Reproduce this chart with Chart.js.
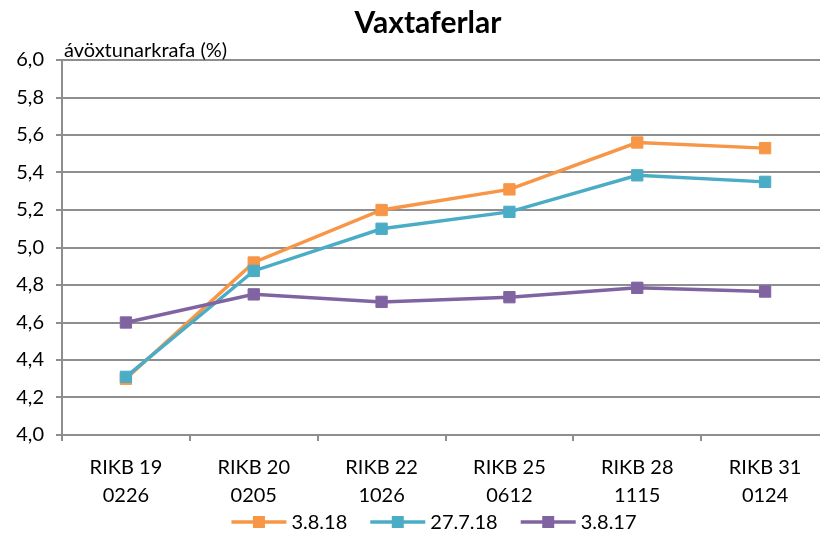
<!DOCTYPE html>
<html>
<head>
<meta charset="utf-8">
<script src="https://cdn.jsdelivr.net/npm/chart.js@4.4.1/dist/chart.umd.min.js"></script>
<style>
  html, body { margin: 0; padding: 0; background: #fff; overflow: hidden; }
</style>
</head>
<body>
<canvas id="chart" width="838" height="535"></canvas>
<script>
// Data
const categories = [
    ['RIKB 19', '0226'],
    ['RIKB 20', '0205'],
    ['RIKB 22', '1026'],
    ['RIKB 25', '0612'],
    ['RIKB 28', '1115'],
    ['RIKB 31', '0124']
];
const labels3818 = '3.8.18';
const labels27718 = '27.7.18';
const labels3817 = '3.8.17';
const values3818 = [4.30, 4.92, 5.20, 5.31, 5.56, 5.53];
const values27718 = [4.31, 4.875, 5.10, 5.19, 5.385, 5.35];
const values3817 = [4.60, 4.75, 4.71, 4.735, 4.785, 4.765];
const yMin = 4.0;
const yMax = 6.0;
const yStep = 0.2;

const chartTitle = 'Vaxtaferlar';
const yTitle = 'ávöxtunarkrafa (%)';

const FONT = 'Lato, "Open Sans", sans-serif';
const GRID = '#8e8e8e';

function makeSeries(label, data, color, order) {
    return {
        label,
        data,
        borderColor: color,
        backgroundColor: color,
        borderWidth: 3.5,
        pointStyle: 'rect',
        pointRadius: 8,
        pointBorderWidth: 1,
        pointBackgroundColor: color,
        pointBorderColor: color,
        tension: 0,
        order
    };
}

// Title, axis title and legend drawn by hand
const decorPlugin = {
    id: 'decor',
    afterDraw(chart) {
        const ctx = chart.ctx;
        const area = chart.chartArea;
        ctx.save();
        ctx.fillStyle = '#000';
        ctx.font = `bold 30px ${FONT}`;
        ctx.textAlign = 'center';
        ctx.textBaseline = 'middle';
        ctx.fillText(chartTitle, 428, 23);

        ctx.font = `20px ${FONT}`;
        ctx.textAlign = 'left';
        ctx.textBaseline = 'alphabetic';
        ctx.fillText(yTitle, area.left + 2, area.top - 3);

        // legend
        const lineLen = 55, gap = 23, textGap = 5;
        const sets = chart.data.datasets;
        const widths = sets.map(d => lineLen + textGap + ctx.measureText(d.label).width);
        const total = widths.reduce((a, b) => a + b, 0) + gap * (sets.length - 1);
        let x = 434 - total / 2;
        const y = 522;
        ctx.textBaseline = 'middle';
        sets.forEach((d, i) => {
            ctx.strokeStyle = d.borderColor;
            ctx.lineWidth = 3.5;
            ctx.beginPath();
            ctx.moveTo(x, y);
            ctx.lineTo(x + lineLen, y);
            ctx.stroke();
            ctx.fillStyle = d.borderColor;
            ctx.fillRect(x + lineLen / 2 - 6, y - 6, 12, 12);
            ctx.fillStyle = '#000';
            ctx.fillText(d.label, x + lineLen + textGap, y + 1);
            x += widths[i] + gap;
        });
        ctx.restore();
    }
};

new Chart(document.getElementById('chart'), {
    type: 'line',
    data: {
        labels: categories,
        datasets: [
            makeSeries(labels3818, values3818, '#F79646', 2),
            makeSeries(labels27718, values27718, '#4BACC6', 1),
            makeSeries(labels3817, values3817, '#8064A2', 0)
        ]
    },
    options: {
        responsive: false,
        animation: false,
        layout: { padding: { top: 60, bottom: 30, left: 0, right: 0 } },
        plugins: {
            legend: { display: false },
            title: { display: false },
            tooltip: { enabled: false }
        },
        scales: {
            x: {
                offset: true,
                grid: {
                    offset: true,
                    drawOnChartArea: false,
                    drawTicks: true,
                    tickLength: 6,
                    color: GRID,
                    lineWidth: 2
                },
                border: { color: GRID, width: 2 },
                ticks: {
                    color: '#000',
                    font: { family: FONT, size: 20, lineHeight: 1.4 },
                    padding: 13,
                    maxRotation: 0,
                    autoSkip: false
                },
                afterFit(scale) { scale.height = 70; }
            },
            y: {
                min: yMin,
                max: yMax,
                grid: {
                    color: GRID,
                    lineWidth: 2,
                    drawTicks: true,
                    tickLength: 6
                },
                border: { color: GRID, width: 2 },
                ticks: {
                    stepSize: yStep,
                    color: '#000',
                    font: { family: FONT, size: 20 },
                    padding: 12,
                    callback: v => v.toFixed(1).replace('.', ',')
                },
                afterFit(scale) { scale.width = 62; }
            }
        }
    },
    plugins: [decorPlugin]
});
</script>
</body>
</html>
